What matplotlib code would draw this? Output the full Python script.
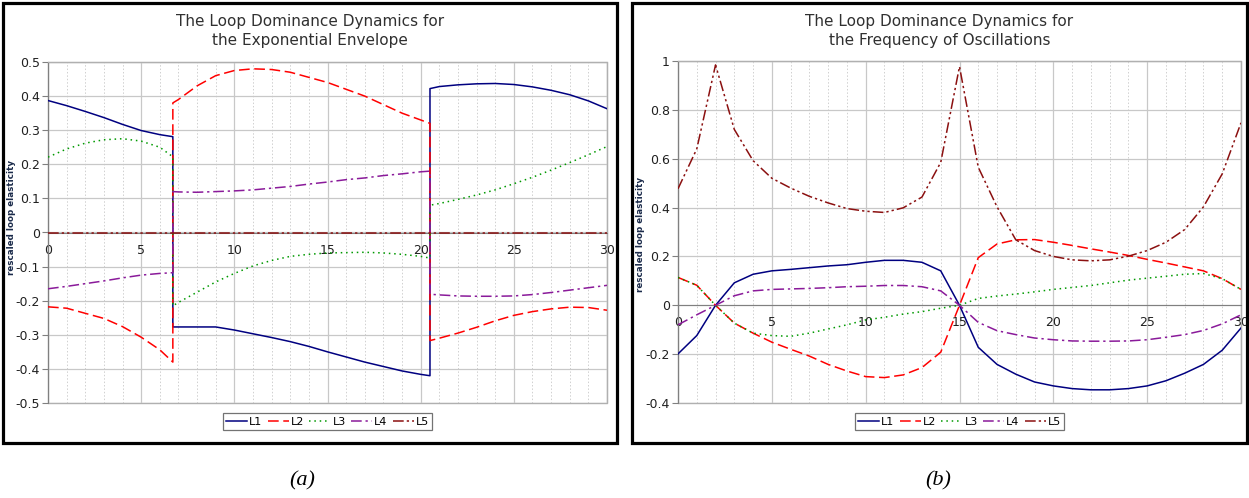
import matplotlib
matplotlib.use("Agg")
import matplotlib.pyplot as plt
from matplotlib.patches import Rectangle
from matplotlib.ticker import MultipleLocator, FuncFormatter

# ---- panel (a): exponential envelope ----
xa = [0, 1, 2, 3, 4, 5, 6, 6.7,
      6.7, 7, 8, 9, 10, 11, 12, 13, 14, 15, 16, 17, 18, 19, 20, 20.5,
      20.5, 21, 22, 23, 24, 25, 26, 27, 28, 29, 30]
a_L1 = [0.387, 0.372, 0.355, 0.337, 0.317, 0.299, 0.287, 0.281,
        -0.277, -0.277, -0.277, -0.277, -0.286, -0.297, -0.308, -0.32, -0.334, -0.35,
        -0.365, -0.38, -0.393, -0.406, -0.416, -0.42,
        0.422, 0.428, 0.433, 0.436, 0.437, 0.434, 0.427, 0.417, 0.404, 0.386, 0.363]
a_L2 = [-0.218, -0.222, -0.237, -0.252, -0.276, -0.307, -0.344, -0.38,
        0.38, 0.39, 0.43, 0.46, 0.475, 0.48, 0.478, 0.47, 0.455, 0.44,
        0.42, 0.40, 0.375, 0.35, 0.33, 0.32,
        -0.317, -0.31, -0.295, -0.278, -0.259, -0.243, -0.232, -0.224, -0.219, -0.22, -0.228]
a_L3 = [0.221, 0.245, 0.262, 0.272, 0.275, 0.268, 0.25, 0.222,
        -0.215, -0.205, -0.175, -0.145, -0.12, -0.098, -0.082, -0.07, -0.064, -0.06,
        -0.059, -0.058, -0.06, -0.064, -0.07, -0.075,
        0.08, 0.085, 0.097, 0.11, 0.125, 0.143, 0.162, 0.183, 0.205, 0.228, 0.252]
a_L4 = [-0.165, -0.158, -0.15, -0.142, -0.133, -0.125, -0.12, -0.118,
        0.12, 0.119, 0.118, 0.12, 0.122, 0.125, 0.13, 0.135, 0.142, 0.148,
        0.155, 0.16, 0.167, 0.172, 0.178, 0.18,
        -0.181, -0.183, -0.186, -0.187, -0.187, -0.186, -0.182, -0.176, -0.169, -0.162, -0.155]
a_L5 = [0.0] * len(xa)

# ---- panel (b): frequency of oscillations ----
xb = list(range(31))
b_L1 = [-0.199, -0.124, 0.0, 0.092, 0.127, 0.141, 0.147, 0.154, 0.161, 0.166, 0.176,
        0.184, 0.184, 0.176, 0.141, 0.0, -0.172, -0.242, -0.282, -0.314, -0.33,
        -0.341, -0.346, -0.346, -0.341, -0.33, -0.309, -0.278, -0.242, -0.184, -0.093]
b_L2 = [0.114, 0.082, 0.0, -0.073, -0.114, -0.151, -0.18, -0.208, -0.242, -0.269, -0.292,
        -0.296, -0.285, -0.255, -0.192, 0.0, 0.195, 0.251, 0.268, 0.269, 0.258,
        0.245, 0.231, 0.218, 0.204, 0.188, 0.173, 0.157, 0.141, 0.109, 0.065]
b_L3 = [0.114, 0.082, 0.0, -0.073, -0.114, -0.124, -0.127, -0.114, -0.097, -0.08, -0.06,
        -0.049, -0.036, -0.026, -0.012, 0.0, 0.028, 0.038, 0.046, 0.055, 0.065,
        0.073, 0.081, 0.092, 0.103, 0.111, 0.119, 0.127, 0.13, 0.109, 0.065]
b_L4 = [-0.08, -0.039, 0.0, 0.039, 0.059, 0.065, 0.067, 0.069, 0.072, 0.076, 0.078,
        0.081, 0.081, 0.076, 0.059, 0.0, -0.07, -0.104, -0.12, -0.134, -0.141,
        -0.146, -0.147, -0.147, -0.146, -0.141, -0.131, -0.12, -0.103, -0.076, -0.039]
b_L5 = [0.477, 0.64, 0.984, 0.72, 0.592, 0.52, 0.48, 0.446, 0.419, 0.396, 0.385,
        0.38, 0.399, 0.443, 0.585, 0.977, 0.565, 0.403, 0.268, 0.224, 0.2,
        0.186, 0.182, 0.186, 0.201, 0.224, 0.258, 0.31, 0.403, 0.538, 0.747]

labels = ["L1", "L2", "L3", "L4", "L5"]
colors = ["#000080", "#ff0000", "#009900", "#8a1a9a", "#8b1010"]
dashes = [None, (7, 3), (1, 2.5), (7, 2.5, 1.5, 2.5), (7, 2, 1.5, 2, 1.5, 2)]

W, H = 1249, 498
plt.rcParams['font.family'] = ['DejaVu Sans']

fig = plt.figure(figsize=(W / 100, H / 100), dpi=100)


def fx(px):
    return px / W


def fy(py):
    return 1 - py / H


def fmt(v, pos):
    v = round(v, 3)
    if v == 0:
        return "0"
    return f"{v:g}"


def panel(rect, frame, x, ys, ylim, ystep, title, ylab_y, caption, cap_x):
    # outer black frame
    fig.add_artist(Rectangle((fx(frame[0]), fy(frame[3])), fx(frame[2] - frame[0]),
                             (frame[3] - frame[1]) / H, transform=fig.transFigure,
                             fill=False, ec="black", lw=2.3))
    ax = fig.add_axes([fx(rect[0]), fy(rect[3]), fx(rect[2] - rect[0]), (rect[3] - rect[1]) / H])
    for lab, y, c, d in zip(labels, ys, colors, dashes):
        line, = ax.plot(x, y, color=c, lw=1.1, label=lab, zorder=3)
        if d is not None:
            line.set_dashes(d)
    ax.set_xlim(0, 30)
    ax.set_ylim(*ylim)
    ax.xaxis.set_major_locator(MultipleLocator(5))
    ax.xaxis.set_minor_locator(MultipleLocator(1))
    ax.yaxis.set_major_locator(MultipleLocator(ystep))
    ax.yaxis.set_major_formatter(FuncFormatter(fmt))
    ax.grid(which="major", color="#c8c8c8", lw=0.9, zorder=0)
    ax.grid(which="minor", axis="x", color="#d0d0d0", lw=0.7, ls=(0, (1.5, 2)), zorder=0)
    for s in ["top", "right"]:
        ax.spines[s].set_color("#b0b0b0")
    ax.spines["left"].set_color("#808080")
    ax.spines["bottom"].set_position(("data", 0))
    ax.spines["bottom"].set_color("#808080")
    ax.add_patch(Rectangle((0, 0), 1, 1, transform=ax.transAxes, fill=False,
                           ec="#b0b0b0", lw=1, zorder=0.5, clip_on=False))
    ax.tick_params(axis="x", which="both", length=0, pad=8, labelsize=9, colors="#202020")
    ax.tick_params(axis="y", length=4, width=0.8, color="#808080", pad=2, labelsize=9,
                   labelcolor="#202020")
    leg = ax.legend(loc="center", bbox_to_anchor=(0.5, -0.055), ncol=5, fontsize=8,
                    frameon=True, fancybox=False, handlelength=1.9, handletextpad=0.2,
                    columnspacing=0.45, borderpad=0.3, borderaxespad=0)
    leg.get_frame().set_edgecolor("#505050")
    leg.get_frame().set_linewidth(0.9)
    cx = (frame[0] + frame[2]) / 2
    fig.text(fx(cx), fy(31), title, ha="center", va="center", fontsize=11,
             color="#303030", linespacing=1.35)
    fig.text(fx(frame[0] + 9), fy(ylab_y), "rescaled loop elasticity", rotation=90,
             ha="center", va="center", fontsize=6.3, fontweight="bold", color="#1a2a4a")
    fig.text(fx(cap_x), fy(481), caption, ha="center", va="center", fontsize=16,
             family="Liberation Serif", style="italic")
    return ax


panel((48, 62, 607, 403), (3, 3, 617, 443), xa, [a_L1, a_L2, a_L3, a_L4, a_L5],
      (-0.5, 0.5), 0.1, "The Loop Dominance Dynamics for\nthe Exponential Envelope",
      217, "(a)", 302)
panel((678, 61, 1241, 403), (632, 3, 1247, 443), xb, [b_L1, b_L2, b_L3, b_L4, b_L5],
      (-0.4, 1.0), 0.2, "The Loop Dominance Dynamics for\nthe Frequency of Oscillations",
      234, "(b)", 938)

fig.savefig("out.png", dpi=100)
